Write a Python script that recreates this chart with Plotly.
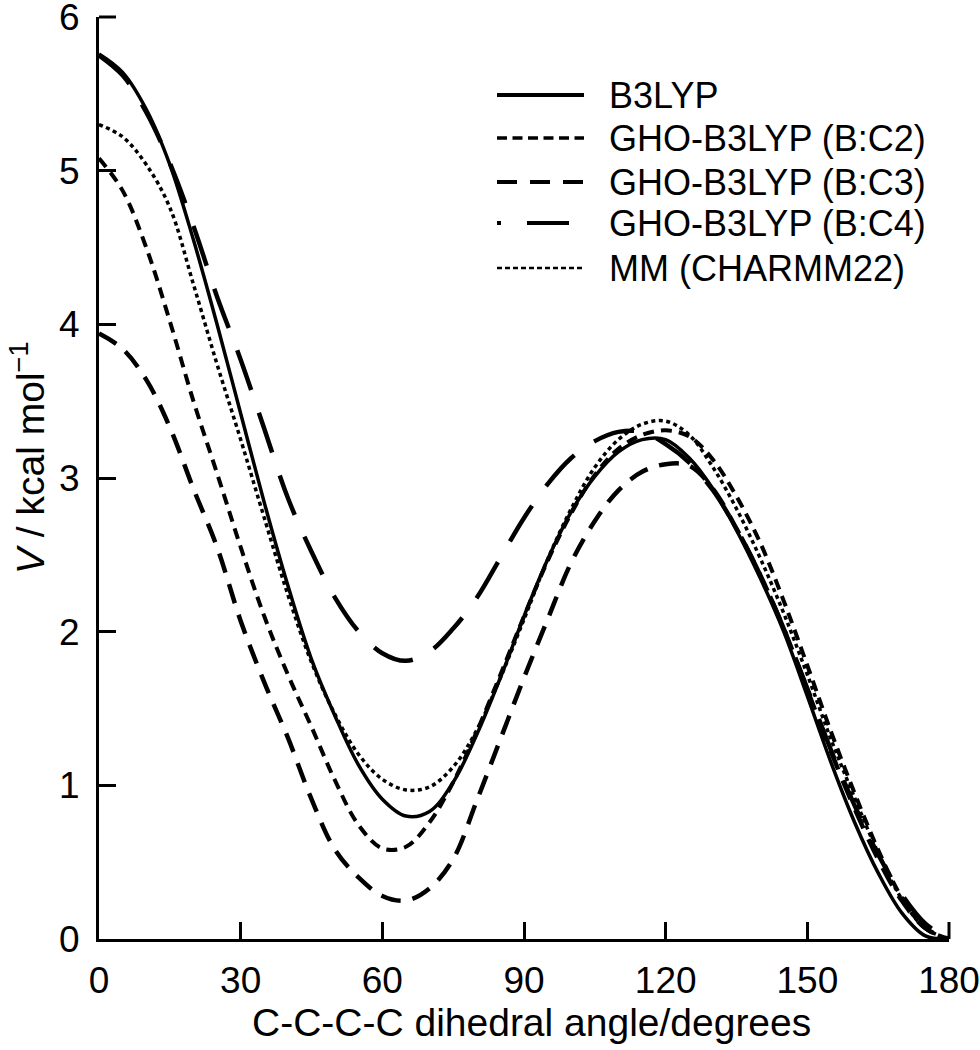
import plotly.graph_objects as go

# ---------------- data ----------------
angle = [0, 5, 10, 15, 20, 25, 30, 35, 40, 45, 50, 55, 60, 65, 70, 75, 80, 85, 90,
         95, 100, 105, 110, 115, 120, 125, 130, 135, 140, 145, 150, 155, 160, 165, 170, 175, 180]

b3lyp = [5.76, 5.64, 5.40, 5.04, 4.55, 4.00, 3.42, 2.84, 2.30, 1.82, 1.45, 1.13, 0.91, 0.80, 0.83,
         1.02, 1.33, 1.70, 2.10, 2.47, 2.78, 3.01, 3.17, 3.25, 3.25, 3.13, 2.93, 2.66, 2.35, 2.00,
         1.58, 1.15, 0.76, 0.43, 0.17, 0.02, 0.00]

gho_c2 = [5.08, 4.87, 4.50, 4.02, 3.50, 3.03, 2.55, 2.10, 1.72, 1.38, 1.03, 0.74, 0.59, 0.60, 0.76,
          1.02, 1.35, 1.72, 2.10, 2.46, 2.77, 3.02, 3.19, 3.28, 3.31, 3.27, 3.12, 2.88, 2.58, 2.20,
          1.78, 1.35, 0.95, 0.58, 0.27, 0.07, 0.00]

gho_c3 = [3.94, 3.84, 3.64, 3.33, 2.93, 2.55, 2.07, 1.67, 1.31, 0.91, 0.58, 0.40, 0.28, 0.25, 0.33,
          0.52, 0.90, 1.30, 1.70, 2.08, 2.45, 2.72, 2.92, 3.04, 3.09, 3.08, 2.93, 2.67, 2.37, 2.02,
          1.62, 1.22, 0.85, 0.52, 0.25, 0.07, 0.00]

gho_c4 = [5.75, 5.62, 5.38, 5.05, 4.64, 4.18, 3.77, 3.32, 2.87, 2.52, 2.22, 2.00, 1.86, 1.81, 1.87,
          2.02, 2.22, 2.48, 2.74, 2.96, 3.13, 3.24, 3.30, 3.30, 3.22, 3.10, 2.92, 2.67, 2.37, 2.02,
          1.63, 1.23, 0.87, 0.55, 0.29, 0.10, 0.00]

mm_charmm = [5.30, 5.22, 5.04, 4.76, 4.26, 3.74, 3.25, 2.74, 2.24, 1.80, 1.46, 1.20, 1.04, 0.97, 0.99,
             1.12, 1.36, 1.70, 2.08, 2.47, 2.80, 3.07, 3.25, 3.35, 3.37, 3.28, 3.07, 2.80, 2.48, 2.12,
             1.72, 1.30, 0.92, 0.56, 0.26, 0.07, 0.00]

series_names = ["B3LYP", "GHO-B3LYP (B:C2)", "GHO-B3LYP (B:C3)", "GHO-B3LYP (B:C4)", "MM (CHARMM22)"]
series_values = [b3lyp, gho_c2, gho_c3, gho_c4, mm_charmm]

x_ticks = [0, 30, 60, 90, 120, 150, 180]
y_ticks = [0, 1, 2, 3, 4, 5, 6]

# ---------------- styles ----------------
plot_styles = [
    dict(width=3.5, dash="solid"),
    dict(width=4, dash="11px,7px"),
    dict(width=4.5, dash="20px,12px"),
    dict(width=4.5, dash="42px,24px"),
    dict(width=3.5, dash="4px,3.5px"),
]
legend_styles = [
    dict(width=4, dash="solid"),
    dict(width=3.5, dash="10px,5.5px"),
    dict(width=4, dash="20px,13px"),
    dict(width=4, dash="4px,26px,42px,30px"),
    dict(width=2.5, dash="5px,3px"),
]

FONT = "Arial, 'Liberation Sans', sans-serif"

fig = go.Figure()
for name, vals, st in zip(series_names, series_values, plot_styles):
    fig.add_trace(go.Scatter(
        x=angle, y=vals, mode="lines", name=name, showlegend=False,
        line=dict(color="black", width=st["width"], dash=st["dash"], shape="spline", smoothing=1.0),
    ))

# page geometry (body margin is removed by the post script below)
W, H = 980, 1050
PL, PR, PT, PB = 99, 949, 17, 939          # plot-area edges in page pixels
pw, ph = PR - PL, PB - PT


def px_to_paper(px, py):
    return (px - PL) / pw, (PB - py) / ph


shapes = []
annotations = []
row_py = [95, 138, 182, 223, 268]
for name, st, py in zip(series_names, legend_styles, row_py):
    x0, y0 = px_to_paper(497, py)
    x1, _ = px_to_paper(584, py)
    shapes.append(dict(type="line", xref="paper", yref="paper", x0=x0, x1=x1, y0=y0, y1=y0,
                       line=dict(color="black", width=st["width"], dash=st["dash"])))
    tx, _ = px_to_paper(607, py)
    annotations.append(dict(xref="paper", yref="paper", x=tx, y=y0, text=name, showarrow=False,
                            xanchor="left", yanchor="middle",
                            font=dict(family=FONT, size=36, color="black")))

# end tick marks (plotly drops inside ticks that sit on the axis ends)
TL = 17
shapes.append(dict(type="line", xref="paper", yref="paper", x0=0, x1=TL / pw, y0=1, y1=1,
                   line=dict(color="black", width=3)))
shapes.append(dict(type="line", xref="paper", yref="paper", x0=1, x1=1, y0=0, y1=TL / ph,
                   line=dict(color="black", width=3)))

# axis titles
xt, yt = px_to_paper(531, 1023)
annotations.append(dict(xref="paper", yref="paper", x=xt, y=yt,
                        text="C-C-C-C dihedral angle/degrees", showarrow=False,
                        xanchor="center", yanchor="middle",
                        font=dict(family=FONT, size=39, color="black")))
xt, yt = px_to_paper(27, 458)
annotations.append(dict(xref="paper", yref="paper", x=xt, y=yt,
                        text="<i>V</i> / kcal mol<sup>\u22121</sup>", showarrow=False,
                        textangle=-90, xanchor="center", yanchor="middle",
                        font=dict(family=FONT, size=39, color="black")))

axis_common = dict(showline=True, linecolor="black", linewidth=3, ticks="inside", ticklen=TL,
                   tickwidth=3, tickcolor="black", showgrid=False, zeroline=False,
                   ticklabeloverflow="allow", automargin=False,
                   tickfont=dict(family=FONT, size=37, color="black"))

fig.update_layout(
    width=W, height=H,
    margin=dict(l=PL, r=W - PR, t=PT, b=H - PB, pad=0, autoexpand=False),
    paper_bgcolor="white", plot_bgcolor="white",
    xaxis=dict(range=[0, 180], tickvals=x_ticks, ticktext=[str(v) for v in x_ticks],
               ticklabelstandoff=7, **axis_common),
    yaxis=dict(range=[0, 6], tickvals=y_ticks, ticktext=[str(v) for v in y_ticks],
               ticklabelstandoff=9, **axis_common),
    shapes=shapes,
    annotations=annotations,
    showlegend=False,
)

fig.write_html("out.html", config={"displayModeBar": False},
               post_script="document.body.style.margin='0';")
